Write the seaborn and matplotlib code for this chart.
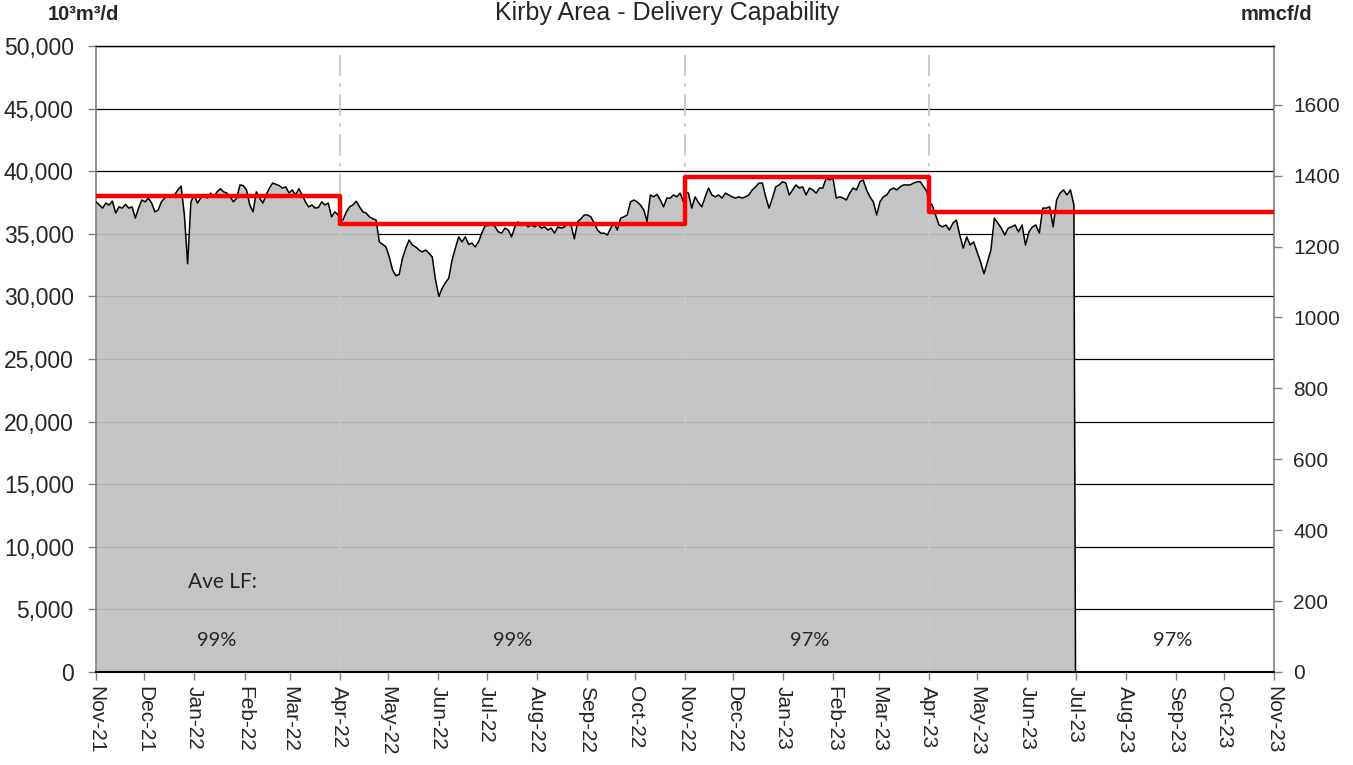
import numpy as np
import pandas as pd
import matplotlib
matplotlib.use("Agg")
import matplotlib.pyplot as plt
import matplotlib.dates as mdates
from matplotlib.ticker import FuncFormatter, MultipleLocator
import seaborn as sns

# daily delivery per capability period (10^3 m3/d)
nov21_apr22 = [
    37550, 37300, 37050, 37450, 37300, 37600, 36650, 37150, 37050, 37350,
    37050, 37150, 36250, 37050, 37700, 37550, 37850, 37450, 36750, 36900,
    37550, 37850, 38050, 37950, 38100, 38500, 38800, 36500, 32600, 37550,
    38100, 37450, 37850, 38100, 37850, 38250, 37950, 38350, 38600, 38350,
    38250, 37950, 37550, 37850, 38900, 38850, 38500, 37300, 36750, 38350,
    37850, 37450, 38100, 38650, 39050, 38950, 38850, 38650, 38750, 38250,
    38500, 38100, 38600, 38100, 37550, 37150, 37300, 37050, 37100, 37550,
    37300, 37450, 36350, 36750, 36500,
]
apr22_nov22 = [
    36250, 36100, 36750, 37150, 37300, 37600, 37150, 36750, 36650, 36350,
    36200, 36100, 34350, 34150, 33950, 33150, 32100, 31650, 31750, 33050,
    33850, 34500, 34100, 33950, 33700, 33550, 33700, 33450, 33150, 31300,
    30000, 30650, 31100, 31450, 32900, 33850, 34750, 34350, 34750, 34150,
    34250, 33950, 34350, 35050, 35650, 35650, 35850, 35550, 35150, 35050,
    35450, 35300, 34750, 35550, 35950, 35650, 35850, 35550, 35700, 35550,
    35750, 35450, 35550, 35300, 35450, 35050, 35550, 35450, 35550, 35850,
    35700, 34600, 35950, 36200, 36500,
    36500, 36350, 35850, 35300, 35050, 35050, 34900, 35450, 35850, 35300,
    36250, 36350, 36500, 37550, 37700, 37550, 37300, 36900, 36000, 38100,
    37950, 38150, 37700, 37150, 37850, 37850, 38100, 37950, 38250, 37550,
]
nov22_apr23 = [
    38350, 38250, 37050, 37950, 37500, 37150, 37950, 38650, 38100, 37950,
    38100, 37850, 38250, 38100, 37950, 37850, 37950, 37850, 37950, 38100,
    38500, 38750, 39050, 39050, 37950, 37050, 37850, 38750, 38900, 39150,
    39050, 38100, 38500, 38900, 38650, 38750, 38100, 38650, 38500, 38250,
    38650, 38650, 39450, 39300, 39450,
    37850, 37950, 37850, 37700, 38250, 38650, 38500, 39150, 39300, 38500,
    37950, 37550, 36500, 37550, 37950, 38100, 38500, 38650, 38500, 38750,
    38900, 38900, 38900, 39050, 39150, 39150, 38750, 38350,
]
apr23_jul23 = [
    37550, 37300, 36500, 35700, 35550, 35700, 35300, 35850, 36100, 34900,
    33850, 34750, 34100, 34350, 33550, 32750, 31800, 32750, 33700, 36250,
    35850, 35450, 34900, 35450, 35550, 35700, 35150, 35700, 34100, 35150,
    35550, 35700, 35050, 37050, 37050, 37150, 35550, 37700, 38250, 38500,
    38100, 38500, 37300,
]

# capability (red step) per period
cap_starts = ["2021-11-01", "2022-04-01", "2022-11-01", "2023-04-01", "2023-11-01"]
cap_levels = [38000, 35750, 39550, 36750, 36750]

# average load factor annotations
lf_dates = ["2022-01-15", "2022-07-17", "2023-01-17", "2023-08-30"]
lf_labels = ["99%", "99%", "97%", "97%"]

period_edges = ["2022-04-01", "2022-11-01", "2023-04-01"]

# build the series, each period spread over its own date span
segments = [
    (nov21_apr22, "2021-11-01", "2022-03-31"),
    (apr22_nov22, "2022-04-01", "2022-10-31"),
    (nov22_apr23, "2022-11-01", "2023-03-31"),
    (apr23_jul23, "2023-04-01", "2023-06-30"),
]
frames = []
for vals, start, end in segments:
    frames.append(pd.DataFrame({"Date": pd.date_range(start, end, periods=len(vals)),
                                "Value": vals}))
frames.append(pd.DataFrame({"Date": pd.to_datetime(["2023-07-01", "2023-11-01"]),
                            "Value": [0, 0]}))
df = pd.concat(frames, ignore_index=True)
cap = pd.DataFrame({"Date": pd.to_datetime(cap_starts), "Cap": cap_levels})

sns.set_style("white")
plt.rcParams["font.family"] = ["Liberation Sans", "DejaVu Sans"]

fig = plt.figure(figsize=(13.53, 7.65), dpi=100)
ax = fig.add_axes([0.071, 0.1216, 0.8706, 0.8183])

# horizontal grid behind the fill
for yv in range(5000, 50001, 5000):
    ax.axhline(yv, color="black", lw=0.9, zorder=1)

ax.fill_between(df["Date"], df["Value"], 0, color="#bfbfbf", alpha=0.92, lw=0, zorder=2)
sns.lineplot(data=df, x="Date", y="Value", ax=ax, color="black", lw=1.1, zorder=4)

for d in period_edges:
    ax.axvline(pd.Timestamp(d), ymax=0.985, color="#c8c8c8", lw=1.3,
               ls=(0, (12, 4, 2, 4)), zorder=3)

sns.lineplot(data=cap, x="Date", y="Cap", ax=ax, color="#ff0000", lw=3.2,
             drawstyle="steps-post", zorder=5)

x0, x1 = pd.Timestamp("2021-11-01"), pd.Timestamp("2023-11-01")
ax.set_xlim(x0, x1)
ax.set_ylim(0, 50000)
ax.yaxis.set_major_locator(MultipleLocator(5000))
ax.yaxis.set_major_formatter(FuncFormatter(lambda v, p: f"{int(v):,}"))
ax.xaxis.set_major_locator(mdates.MonthLocator())
ax.xaxis.set_major_formatter(mdates.DateFormatter("%b-%y"))
ax.set_xlabel("")
ax.set_ylabel("")
ax.tick_params(axis="y", labelsize=16.5, length=6, width=1, color="#808080",
               direction="out", left=True, pad=10)
ax.tick_params(axis="x", labelsize=15, length=6, width=1, color="#808080",
               direction="out", bottom=True, labelrotation=270, pad=4)
for lab in ax.get_xticklabels():
    lab.set_va("top")
    lab.set_ha("center")

for side in ["left", "right"]:
    ax.spines[side].set_color("#808080")
    ax.spines[side].set_linewidth(1.2)
ax.spines["top"].set_color("black")
ax.spines["top"].set_linewidth(1.0)
ax.spines["bottom"].set_color("black")
ax.spines["bottom"].set_linewidth(1.5)
ax.spines["bottom"].set_zorder(6)

# right axis in mmcf/d
ax2 = ax.twinx()
ax2.set_ylim(0, 50000 * 35.3147 / 1000)
ax2.set_yticks(np.arange(0, 1601, 200))
ax2.tick_params(axis="y", labelsize=15, length=6, width=1, color="#808080",
                direction="out", pad=8)
for s in ax2.spines.values():
    s.set_visible(False)

# load factor labels
ax.text(pd.Timestamp("2021-12-28"), 7200, "Ave LF:", fontsize=15,
        family=["Lato", "DejaVu Sans"], va="center", ha="left", zorder=7)
for d, lab in zip(lf_dates, lf_labels):
    ax.text(pd.Timestamp(d), 2500, lab, fontsize=14.5, family=["Lato", "DejaVu Sans"],
            va="center", ha="center", zorder=7)

fig.text(667 / 1353, 1 - 13 / 765, "Kirby Area - Delivery Capability",
         fontsize=18, ha="center", va="center")
fig.text(48 / 1353, 1 - 15 / 765, "10³m³/d", fontsize=14.5, fontweight="bold",
         ha="left", va="center")
fig.text(1276 / 1353, 1 - 15 / 765, "mmcf/d", fontsize=14.5, fontweight="bold",
         ha="center", va="center")

fig.savefig("out.png", dpi=100)
